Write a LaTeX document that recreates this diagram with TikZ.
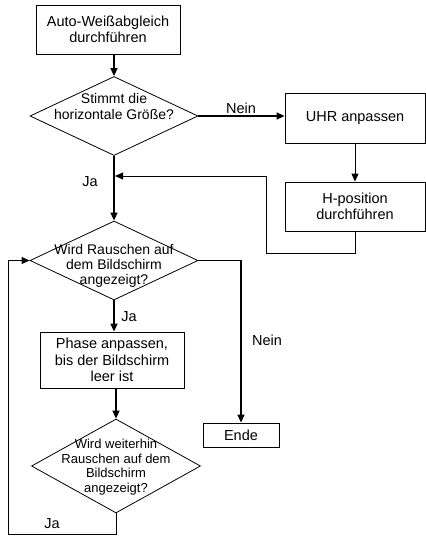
\documentclass[tikz,border=0pt]{standalone}
\usepackage{fontspec}
\setmainfont{Liberation Sans}
\usetikzlibrary{shapes.geometric, arrows.meta}
% text inside a diamond, without widening it
\newcommand{\dtext}[2][0pt]{\makebox[0pt]{\smash{\raisebox{#1}{\begin{tabular}{@{}c@{}}#2\end{tabular}}}}}

\begin{document}
\begin{tikzpicture}[x=1pt, y=-1pt, font=\fontsize{14.5}{16}\selectfont,
    box/.style={rectangle, draw, line width=0.8pt, inner sep=0pt, align=center},
    decision/.style={diamond, draw, line width=0.8pt, inner sep=0pt, minimum width=168pt, minimum height=79pt},
    flow/.style={line width=1.6pt, -{Triangle[length=8pt, width=7pt]}},
    back/.style={line width=0.9pt, -{Triangle[length=8pt, width=7pt]}}]
    \useasboundingbox (0,0) rectangle (426,536);

    \node[box, minimum width=144pt, minimum height=49pt] (weiss) at (108,29.5) {Auto-Weißabgleich\\durchführen};
    \node[decision, font=\fontsize{14}{16}\selectfont] (groesse) at (114,116) {\dtext[4pt]{Stimmt die\\horizontale Größe?}};
    \node[box, minimum width=140pt, minimum height=50pt] (uhr) at (355,118) {UHR anpassen};
    \node[box, minimum width=140pt, minimum height=49pt] (hpos) at (355,206.5) {H-position\\durchführen};
    \node[decision, font=\fontsize{14}{15}\selectfont] (rauschen) at (114,260.5) {\dtext[-10pt]{Wird Rauschen auf\\dem Bildschirm\\angezeigt?}};
    \node[box, minimum width=144pt, minimum height=56pt, font=\fontsize{14.5}{16.3}\selectfont] (phase) at (112,360) {Phase anpassen,\\bis der Bildschirm\\leer ist};
    \node[decision, minimum width=169pt, minimum height=94pt, font=\fontsize{13}{14.5}\selectfont] (weiter) at (116,466) {\dtext[-4.5pt]{Wird weiterhin\\Rauschen auf dem\\Bildschirm\\angezeigt?}};
    \node[box, minimum width=76pt, minimum height=24pt] (ende) at (241,435) {Ende};

    \coordinate (r1) at (266,253);
    \coordinate (j1) at (115,176);
    \coordinate (l1) at (8,534.5);

    \draw[flow] (weiss.south -| groesse.north) -- (groesse.north);
    \draw[flow] (groesse.east) -- (groesse.east -| uhr.west);
    \draw[back] (uhr.south) -- (hpos.north);
    \draw[flow] (groesse.south) -- (rauschen.north);
    \draw[back] (hpos.south) |- (r1) |- (j1);
    \draw[flow] (rauschen.south) -- (rauschen.south |- phase.north);
    \draw[flow] (weiter.north |- phase.south) -- (weiter.north);
    \draw[flow] (rauschen.east) -| (ende.north);
    \draw[back] (weiter.south) |- (l1) |- (rauschen.west);

    \node (ja1) at (90,182) {Ja};
    \node (nein1) at (241,108) {Nein};
    \node (ja2) at (129,317) {Ja};
    \node (nein2) at (267,340) {Nein};
    \node (ja3) at (52,524) {Ja};
\end{tikzpicture}
\end{document}
